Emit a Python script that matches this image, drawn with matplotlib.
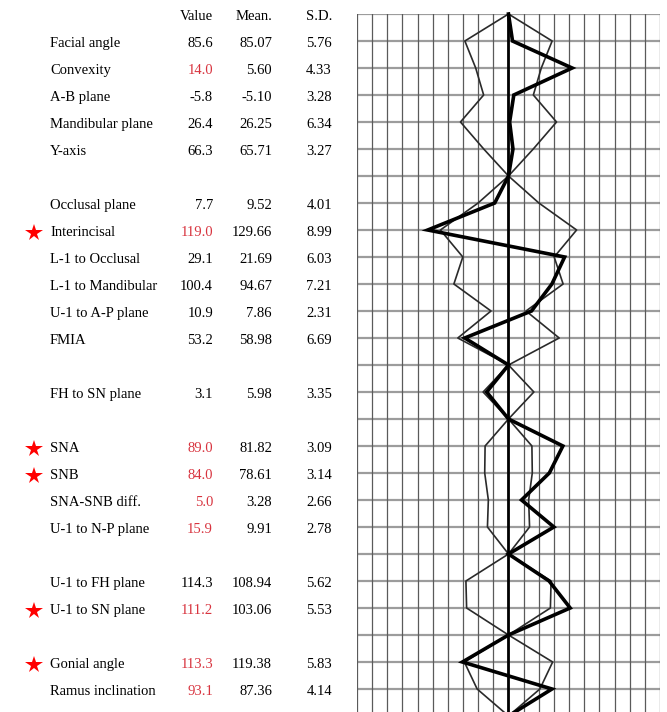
import matplotlib
matplotlib.use("Agg")
import matplotlib.pyplot as plt
import numpy as np

# --- données -------------------------------------------------------------
names = ["Facial angle", "Convexity", "A-B plane", "Mandibular plane", "Y-axis",
         "Occlusal plane", "Interincisal", "L-1 to Occlusal", "L-1 to Mandibular",
         "U-1 to A-P plane", "FMIA",
         "FH to SN plane",
         "SNA", "SNB", "SNA-SNB diff.", "U-1 to N-P plane",
         "U-1 to FH plane", "U-1 to SN plane",
         "Gonial angle", "Ramus inclination"]
values = [85.6, 14.0, -5.8, 26.4, 66.3,
          7.7, 119.0, 29.1, 100.4, 10.9, 53.2,
          3.1,
          89.0, 84.0, 5.0, 15.9,
          114.3, 111.2,
          113.3, 93.1]
value_labels = ["85.6", "14.0", "-5.8", "26.4", "66.3",
                "7.7", "119.0", "29.1", "100.4", "10.9", "53.2",
                "3.1",
                "89.0", "84.0", "5.0", "15.9",
                "114.3", "111.2",
                "113.3", "93.1"]
means = [85.07, 5.60, -5.10, 26.25, 65.71,
         9.52, 129.66, 21.69, 94.67, 7.86, 58.98,
         5.98,
         81.82, 78.61, 3.28, 9.91,
         108.94, 103.06,
         119.38, 87.36]
mean_labels = ["85.07", "5.60", "-5.10", "26.25", "65.71",
               "9.52", "129.66", "21.69", "94.67", "7.86", "58.98",
               "5.98",
               "81.82", "78.61", "3.28", "9.91",
               "108.94", "103.06",
               "119.38", "87.36"]
sds = [5.76, 4.33, 3.28, 6.34, 3.27,
       4.01, 8.99, 6.03, 7.21, 2.31, 6.69,
       3.35,
       3.09, 3.14, 2.66, 2.78,
       5.62, 5.53,
       5.83, 4.14]
# sens du tracé (A-B plane inversé)
signs = [1, 1, -1, 1, 1,
         1, 1, 1, 1, 1, 1,
         1,
         1, 1, 1, 1,
         1, 1,
         1, 1]
flagged = [False, True, False, False, False,
           False, True, False, False, False, False,
           False,
           True, True, True, True,
           False, True,
           True, True]
starred = [False, False, False, False, False,
           False, True, False, False, False, False,
           False,
           True, True, False, False,
           False, True,
           True, False]
group_sizes = [5, 6, 1, 4, 2, 2]
deg_per_cell = 2.0

# --- lignes du polygone ----------------------------------------------------
rows = []
center_rows = [0]
r = 0
for n in group_sizes:
    for k in range(n):
        r += 1
        rows.append(r)
    r += 1
    center_rows.append(r)
n_rows = r

poly_y = sorted(rows + center_rows)
sd_at = dict(zip(rows, sds))
dev_at = dict(zip(rows, [s * (v - m) / deg_per_cell for s, v, m in zip(signs, values, means)]))
left_x = [-sd_at[y] / deg_per_cell if y in sd_at else 0 for y in poly_y]
right_x = [sd_at[y] / deg_per_cell if y in sd_at else 0 for y in poly_y]
pat_x = [dev_at.get(y, 0) for y in poly_y]

# --- figure ---------------------------------------------------------------
W, H = 667, 712
fig = plt.figure(figsize=(W / 100, H / 100), dpi=100)
plt.rcParams['font.family'] = ['Liberation Serif', 'DejaVu Serif']

top_px, step_px = 14, 27.0
ybot = (H - top_px) / step_px
ax_h = (H - top_px) / H
gl, gr = 357, 660

ax = fig.add_axes([gl / W, 0, (gr - gl) / W, ax_h])
ax.set_xlim(-10, 10)
ax.set_ylim(ybot, 0)
ax.axis('off')
for i in range(0, n_rows + 1):
    ax.axhline(i, color='#9c9c9c', lw=1.6, zorder=1)
for j in range(-10, 11):
    ax.axvline(j, color='#5a5a5a', lw=0.9, zorder=1)
ax.axvline(0, color='black', lw=2.0, zorder=3)

ax.plot(left_x, poly_y, color='#2a2a2a', lw=1.2, zorder=2, clip_on=False)
ax.plot(right_x, poly_y, color='#2a2a2a', lw=1.2, zorder=2, clip_on=False)
ax.plot(pat_x, poly_y, color='black', lw=2.6, zorder=4, clip_on=False,
        solid_joinstyle='miter')

# --- tableau --------------------------------------------------------------
tx = fig.add_axes([0, 0, gl / W, ax_h])
tx.set_xlim(0, gl)
tx.set_ylim(ybot, 0)
tx.axis('off')

fs = 10.5
red = '#d8343f'
dy = 0.1
tx.text(213, dy, "Value", ha='right', va='center', fontsize=fs)
tx.text(272, dy, "Mean.", ha='right', va='center', fontsize=fs)
tx.text(332, dy, "S.D.", ha='right', va='center', fontsize=fs)
for y, name, vl, ml, sd, fl in zip(rows, names, value_labels, mean_labels, sds, flagged):
    tx.text(50, y + dy, name, ha='left', va='center', fontsize=fs)
    tx.text(213, y + dy, vl, ha='right', va='center', fontsize=fs,
            color=red if fl else 'black')
    tx.text(272, y + dy, ml, ha='right', va='center', fontsize=fs)
    tx.text(332, y + dy, f"{sd:.2f}", ha='right', va='center', fontsize=fs)

star_rows = [y for y, s in zip(rows, starred) if s]
tx.plot([34] * len(star_rows), [y + dy for y in star_rows], linestyle='none',
        marker='*', markersize=13, color='#ff0000', markeredgewidth=0)

fig.savefig("out.png", dpi=100)
